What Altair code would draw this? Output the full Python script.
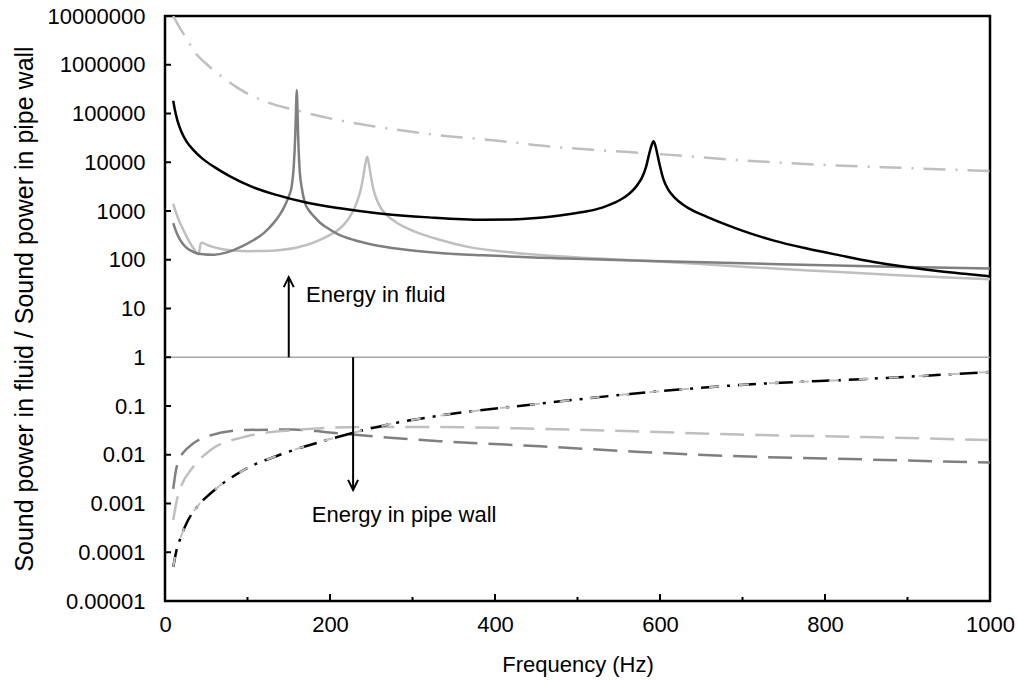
import altair as alt
import pandas as pd

# ---------------- data ----------------
# upper curves (energy mainly in fluid)
black_f = [10, 12, 15, 20, 26, 34, 45, 60, 80, 105, 135, 170, 210, 260, 320, 386, 420, 450, 487, 510, 530,
           545, 555, 563, 569, 574, 578, 583, 587, 590, 592, 594, 597, 600, 604, 610, 618, 628, 640, 657, 677,
           697, 737, 778, 818, 859, 899, 939, 1000]
black_v = [182000, 117500, 72400, 41700, 26900, 18200, 12000, 7940, 5010, 3160, 2140, 1510, 1150, 890, 740,
           660, 668, 716, 851, 977, 1175, 1480, 1820, 2290, 2880, 3720, 4790, 7940, 15100, 22900, 26900,
           22900, 14100, 8300, 4570, 2750, 1860, 1350, 1020, 760, 550, 410, 250, 170, 123, 90, 71, 58, 46]

dgrey_f = [10, 13, 17, 22, 28, 36, 46, 58, 70, 83, 95, 107, 120, 131, 139, 145, 150, 153.5, 156, 158, 159,
           159.7, 160.4, 161.3, 163, 166, 170, 175, 180, 188, 196, 210, 230, 252, 285, 333, 386, 487, 588,
           700, 800, 900, 1000]
dgrey_v = [562, 398, 282, 209, 166, 141, 129, 126, 135, 158, 195, 251, 355, 550, 832, 1260, 2000, 3160,
           7940, 39800, 158000, 302000, 158000, 39800, 7940, 2820, 1410, 1000, 794, 575, 457, 331, 251, 204,
           166, 138, 123, 106, 94, 85, 77, 71, 66]

lgrey_f = [10, 13, 17, 22, 27, 32, 36, 39, 40.5, 42, 43.5, 45, 50, 58, 70, 85, 100, 120, 140, 160, 180, 200,
           212, 222, 228, 233, 237, 240.5, 243, 245, 247, 249.5, 253, 257, 261, 268, 280, 293, 310, 333, 366,
           426, 487, 588, 700, 800, 900, 1000]
lgrey_v = [1410, 955, 631, 417, 282, 200, 158, 132, 129, 166, 219, 224, 204, 184, 164, 153, 150, 151, 158,
           178, 224, 324, 437, 676, 1000, 1580, 2630, 5250, 9550, 12900, 9550, 5250, 2630, 1660, 1200, 851,
           589, 447, 339, 257, 186, 138, 115, 94, 72, 58, 47, 40]

dashdot_f = [10, 15, 20, 26, 35, 50, 70, 90, 120, 160, 212, 252, 325, 400, 467, 530, 592, 697, 800, 900, 1000]
dashdot_v = [1.0e7, 7.0e6, 5.0e6, 3.5e6, 1.9e6, 1.05e6, 5.5e5, 3.2e5, 1.8e5, 1.15e5, 7.2e4, 5.5e4, 3.7e4,
             2.8e4, 2.1e4, 1.75e4, 1.5e4, 1.1e4, 8.8e3, 7.6e3, 6.6e3]

# lower curves (energy mainly in pipe wall)
low_dgrey_f = [10, 13, 16, 22, 34, 55, 95, 155, 196, 277, 333, 455, 576, 697, 850, 1000]
low_dgrey_v = [0.0020, 0.0045, 0.0075, 0.011, 0.017, 0.025, 0.032, 0.033, 0.029, 0.022, 0.019, 0.0149,
               0.0114, 0.0093, 0.0080, 0.0069]

low_lgrey_f = [10, 14, 18, 34, 55, 95, 155, 236, 333, 455, 576, 697, 850, 1000]
low_lgrey_v = [0.00046, 0.0011, 0.0019, 0.0056, 0.0124, 0.023, 0.032, 0.037, 0.037, 0.034, 0.030, 0.026,
               0.023, 0.020]

low_black_f = [10, 14, 18, 26, 40, 55, 95, 143, 196, 277, 337, 455, 576, 697, 859, 1000]
low_black_v = [5.0e-5, 1.1e-4, 1.8e-4, 3.9e-4, 0.0009, 0.0016, 0.0048, 0.0105, 0.020, 0.044, 0.065, 0.112,
               0.185, 0.27, 0.365, 0.5]

low_grey2_f = [10, 14, 18, 26, 40, 55, 95, 143, 196, 277, 337, 455, 576, 697, 859, 1000]
low_grey2_v = [5.0e-5, 1.1e-4, 1.8e-4, 3.9e-4, 0.0009, 0.0016, 0.0048, 0.0105, 0.020, 0.044, 0.065, 0.112,
               0.185, 0.27, 0.365, 0.5]

# reference line and annotations
unity = [1]
arrow_up = {"f": [150], "v1": [1], "v2": [44]}
arrow_down = {"f": [228], "v1": [1], "v2": [0.0019]}
labels_text = ["Energy in fluid", "Energy in pipe wall"]
labels_f = [171, 178]
labels_v = [18.7, 0.00057]

# axes
x_tick_values = [0, 200, 400, 600, 800, 1000]
x_minor_values = [100, 300, 500, 700, 900]
y_tick_values = [1e-5, 1e-4, 1e-3, 1e-2, 1e-1, 1, 10, 100, 1000, 1e4, 1e5, 1e6, 1e7]
y_tick_labels = ["0.00001", "0.0001", "0.001", "0.01", "0.1", "1", "10", "100", "1000", "10000",
                 "100000", "1000000", "10000000"]

# ---------------- chart ----------------
W, H = 825, 585
FONT = "Liberation Sans"
BLACK = "#000000"
DGREY = "#7f7f7f"
LGREY = "#bfbfbf"

expr = None
for v, lab in reversed(list(zip(y_tick_values, y_tick_labels))):
    expr = f"'{lab}'" if expr is None else f"datum.value < {v * 3} ? '{lab}' : " + expr
label_expr = expr

x_scale = alt.Scale(domain=[0, 1000], nice=False, zero=False)
y_scale = alt.Scale(type="log", domain=[1e-5, 1e7], nice=False)

x_axis = alt.Axis(values=x_tick_values, format="d", title="Frequency (Hz)", grid=False, ticks=False,
                  domain=False, labelFlush=False, labelFontSize=22, labelColor=BLACK, labelFont=FONT,
                  labelPadding=13, titleFont=FONT, titleFontSize=22, titleFontWeight="normal",
                  titleColor=BLACK, titleY=63, titleBaseline="middle")
y_axis = alt.Axis(values=y_tick_values, labelExpr=label_expr,
                  title="Sound power in fluid / Sound power in pipe wall",
                  grid=False, ticks=False, domain=False, labelFlush=False, labelFontSize=22, labelColor=BLACK,
                  labelFont=FONT, labelPadding=20, titleFont=FONT, titleFontSize=25, titleFontWeight="normal",
                  titleColor=BLACK, titleX=-141, titleY=H / 2, titleBaseline="middle", titleAlign="center")


def X(field):
    return alt.X(field, type="quantitative", scale=x_scale, axis=x_axis)


def Y(field):
    return alt.Y(field, type="quantitative", scale=y_scale, axis=y_axis)


def curve(f, v, color, width=2.5, dash=None):
    df = pd.DataFrame({"f": f, "v": v})
    kw = dict(color=color, strokeWidth=width, interpolate="monotone", clip=True)
    if dash:
        kw["strokeDash"] = dash
    return alt.Chart(df).mark_line(**kw).encode(x=X("f"), y=Y("v"))


layers = []
# horizontal line at 1
layers.append(alt.Chart(pd.DataFrame({"v": unity})).mark_rule(color="#a6a6a6", strokeWidth=1.5)
              .encode(y=Y("v")))

layers.append(curve(dashdot_f, dashdot_v, LGREY, 2.5, [22, 10, 2, 10]))
layers.append(curve(lgrey_f, lgrey_v, LGREY, 2.5))
layers.append(curve(dgrey_f, dgrey_v, DGREY, 2.5))
layers.append(curve(black_f, black_v, BLACK, 2.5))

layers.append(curve(low_dgrey_f, low_dgrey_v, DGREY, 2.5, [24, 11]))
layers.append(curve(low_lgrey_f, low_lgrey_v, LGREY, 2.5, [24, 11]))
layers.append(curve(low_black_f, low_black_v, BLACK, 2.5, [18, 8, 3, 8]))
layers.append(curve(low_grey2_f, low_grey2_v, LGREY, 2.0, [10, 20]))

# arrows
for arr, shape in [(arrow_up, "M-1,2L0,0L1,2"), (arrow_down, "M-1,-2L0,0L1,-2")]:
    adf = pd.DataFrame(arr)
    layers.append(alt.Chart(adf).mark_rule(color=BLACK, strokeWidth=2).encode(x=X("f"), y=Y("v1"), y2="v2"))
    layers.append(alt.Chart(adf).mark_point(shape=shape, size=100, filled=False, stroke=BLACK, strokeWidth=2,
                                            opacity=1).encode(x=X("f"), y=Y("v2")))

# annotation texts
tdf = pd.DataFrame({"f": labels_f, "v": labels_v, "t": labels_text})
layers.append(alt.Chart(tdf).mark_text(align="left", baseline="middle", font=FONT, fontSize=22, color=BLACK)
              .encode(x=X("f"), y=Y("v"), text="t:N"))

# inward ticks
ytdf = pd.DataFrame({"v": y_tick_values})
layers.append(alt.Chart(ytdf).mark_rule(color=BLACK, strokeWidth=2).encode(
    y=Y("v"), x=alt.value(0), x2=alt.value(6)))
xtdf = pd.DataFrame({"f": x_tick_values})
layers.append(alt.Chart(xtdf).mark_rule(color=BLACK, strokeWidth=2).encode(
    x=X("f"), y=alt.value(H), y2=alt.value(H - 7)))
xmdf = pd.DataFrame({"f": x_minor_values})
layers.append(alt.Chart(xmdf).mark_rule(color=BLACK, strokeWidth=2).encode(
    x=X("f"), y=alt.value(H), y2=alt.value(H - 4)))

chart = alt.layer(*layers).properties(
    width=W, height=H,
    autosize=alt.AutoSizeParams(type="none"),
    padding={"left": 165, "top": 16, "right": 28, "bottom": 85},
    background="white",
).configure_view(stroke=BLACK, strokeWidth=2.5)

chart.save("out.html", embed_options={"renderer": "svg", "actions": False})
